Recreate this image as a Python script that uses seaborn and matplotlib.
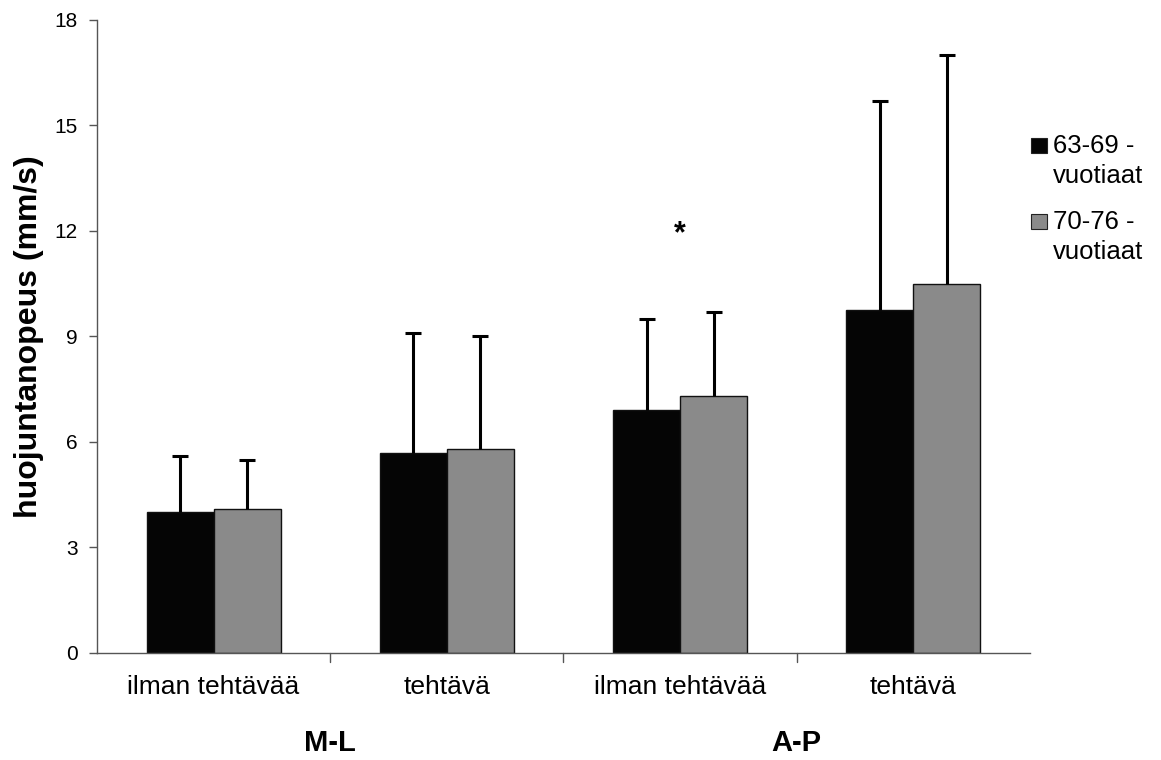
import numpy as np
import pandas as pd
import seaborn as sns
import matplotlib.pyplot as plt
from matplotlib.patches import Rectangle

# arvot luettu kuvasta
tilanteet = ["ilman tehtävää", "tehtävä", "ilman tehtävää", "tehtävä"]
suunnat = ["M-L", "M-L", "A-P", "A-P"]
ryhmat = ["63-69 -\nvuotiaat", "70-76 -\nvuotiaat"]
nuoremmat = [4.0, 5.7, 6.9, 9.75]
vanhemmat = [4.1, 5.8, 7.3, 10.5]
nuoremmat_sd = [1.6, 3.4, 2.6, 5.95]
vanhemmat_sd = [1.4, 3.2, 2.4, 6.5]
y_ticks = [0, 3, 6, 9, 12, 15, 18]
varit = ["#050505", "#8a8a8a"]

sns.set_theme(style="white")
plt.rcParams['font.family'] = ['Liberation Sans', 'DejaVu Sans']
plt.rcParams['text.color'] = 'black'

kohdat = [f"{s}|{t}" for s, t in zip(suunnat, tilanteet)]
df = pd.DataFrame({
    "kohta": kohdat * 2,
    "ryhma": [ryhmat[0]] * 4 + [ryhmat[1]] * 4,
    "arvo": nuoremmat + vanhemmat,
})

fig = plt.figure(figsize=(11.61, 7.6), dpi=100)
ax = fig.add_axes([0.0835, 0.1408, 0.8036, 0.8329])

sns.barplot(data=df, x="kohta", y="arvo", hue="ryhma", order=kohdat,
            palette=varit, width=0.575, gap=0, errorbar=None,
            edgecolor="#111111", linewidth=1.0, saturation=1, ax=ax, legend=False)

# virhepalkit vain ylöspäin
for cont, sd in zip(ax.containers, [nuoremmat_sd, vanhemmat_sd]):
    xs = [p.get_x() + p.get_width() / 2 for p in cont]
    ys = [p.get_height() for p in cont]
    _, caps, _ = ax.errorbar(xs, ys, yerr=[np.zeros(len(sd)), sd], fmt="none",
                             ecolor="black", elinewidth=2.2, capsize=6, capthick=2.2, zorder=3)
    caps[0].set_visible(False)

# merkitsevyys
ax.text(2, 11.9, "*", ha="center", va="center", fontsize=22, fontweight="bold")

ax.set_ylim(0, 18)
ax.set_xlim(-0.5, 3.5)
ax.set_yticks(y_ticks)
ax.set_xticks(range(4))
ax.set_xticklabels(tilanteet, fontsize=19)
ax.tick_params(axis="y", labelsize=15, length=6, width=1, color="#555555",
               left=True, pad=8, labelcolor="black")
ax.tick_params(axis="x", length=0, pad=16, labelcolor="black")
for k in [0.5, 1.5, 2.5]:
    ax.plot([k, k], [0, -0.25], color="#555555", lw=1, clip_on=False)
ax.set_xlabel("")
ax.set_ylabel("huojuntanopeus (mm/s)", fontsize=23, fontweight="bold", color="black")
ax.yaxis.set_label_coords(-0.057, 0.5)

for side in ["top", "right"]:
    ax.spines[side].set_visible(False)
for side in ["left", "bottom"]:
    ax.spines[side].set_color("#555555")
    ax.spines[side].set_linewidth(1)

# pääryhmien nimet
for i, nimi in enumerate(["M-L", "A-P"]):
    ax.text(0.5 + 2 * i, -2.56, nimi, ha="center", va="center",
            fontsize=21, fontweight="bold")

# selite oikealle, neliö ensimmäisen rivin kohdalle
W, H = 1161, 760
for vari, teksti, pohja in zip(varit, ryhmat, [153, 229]):
    fig.patches.append(Rectangle((1031 / W, 1 - pohja / H), 16 / W, 15 / H,
                                 transform=fig.transFigure, facecolor=vari,
                                 edgecolor="#222222", lw=0.8))
    fig.text(1053 / W, 1 - pohja / H, teksti.split("\n")[0], fontsize=18.5, va="baseline")
    fig.text(1053 / W, 1 - (pohja + 30) / H, teksti.split("\n")[1], fontsize=18.5, va="baseline")

fig.savefig("out.png", dpi=100)
